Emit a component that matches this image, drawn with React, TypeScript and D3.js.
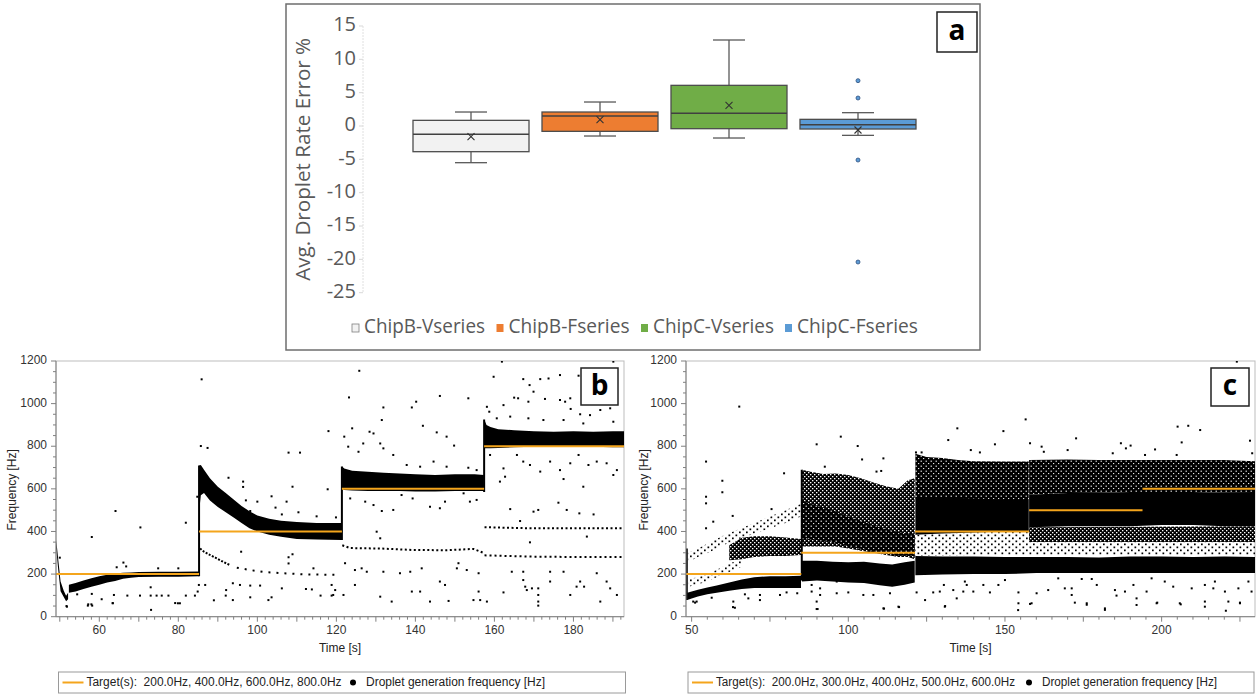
import React from 'react';
import * as d3 from 'd3';

// ---------------- Panel a: box plot data ----------------
const boxCategories = ['ChipB-Vseries', 'ChipB-Fseries', 'ChipC-Vseries', 'ChipC-Fseries'];
const boxWhiskerLow = [-5.5, -1.5, -1.8, -1.4];
const boxQ1 = [-3.85, -0.8, -0.4, -0.45];
const boxMedian = [-1.25, 1.5, 1.9, 0.2];
const boxQ3 = [0.85, 2.1, 6.1, 1.0];
const boxWhiskerHigh = [2.1, 3.6, 12.9, 2.0];
const boxMean = [-1.6, 0.95, 3.1, -0.6];
const boxOutliers: [number, number][] = [[3, 6.8], [3, 4.2], [3, -5.1], [3, -20.4]];
const aTicks = [15, 10, 5, 0, -5, -10, -15, -20, -25];
const boxColors = ['#f2f2f2', '#ed7d31', '#70ad47', '#5b9bd5'];

// ---------------- Panel b data ----------------
const bTargets: [number, number, number][] = [
  [49.04, 85.25, 200], [85.25, 121.4, 400], [121.4, 157.4, 600], [157.4, 192.8, 800],
];
const bBand0: [number, number, number][] = [
  [49.1, 320, 360], [49.6, 220, 270], [50.2, 120, 165], [51, 92, 122], [51.6, 72, 98], [52.1, 82, 112],
];
const bBand1: [number, number, number][] = [
  [52.3, 112, 150], [54, 118, 158], [56, 130, 170], [58, 140, 180], [60, 150, 190], [62, 160, 197],
  [64, 168, 203], [66, 178, 206], [68, 183, 208], [70, 186, 210], [75, 188, 211], [80, 188, 211], [85.2, 190, 212],
];
const bBand2: [number, number, number][] = [
  [85.3, 500, 710], [85.7, 570, 712], [86.5, 580, 690], [88, 545, 650], [90, 515, 610], [92, 490, 580],
  [94, 465, 550], [96, 440, 520], [98, 415, 495], [100, 400, 475], [103, 385, 460], [106, 375, 450],
  [110, 365, 445], [115, 362, 440], [121.3, 360, 440],
];
const bBand3: [number, number, number][] = [
  [121.45, 600, 705], [122, 595, 695], [124, 592, 685], [128, 590, 680], [132, 590, 675], [136, 590, 672],
  [140, 588, 668], [145, 588, 665], [150, 590, 668], [155, 590, 668], [157.35, 590, 665],
];
const bBand4: [number, number, number][] = [
  [157.45, 790, 925], [158, 790, 900], [159, 790, 890], [161, 792, 880], [165, 795, 875], [170, 797, 870],
  [175, 797, 868], [180, 797, 870], [185, 797, 868], [190, 795, 870], [192.8, 795, 870],
];
const bJumps: [number, number, number][] = [[85.25, 190, 710], [121.4, 360, 705], [157.4, 585, 925]];
const bTrail1: [number, number][] = [[85.5, 320], [86.5, 305], [88, 290], [89.7, 274], [91.4, 257], [93, 243]];
const bTrail2: [number, number][] = [[94.8, 230], [98.2, 219], [101.5, 210], [106.6, 204], [111.7, 199], [116.7, 197], [121, 196]];
const bTrail3: [number, number][] = [[121.5, 335], [123.5, 322], [131, 320], [139.5, 313], [147.9, 312], [154.7, 318], [157.2, 300]];
const bTrail4: [number, number][] = [[157.5, 420], [169, 415], [181.7, 415], [192.8, 415]];
const bTrail5: [number, number][] = [[157.5, 288], [169, 282], [181.7, 280], [192.8, 280]];
const bOutliers: [number, number][] = [
  [85.9, 1114], [118, 871], [64.1, 496], [70.4, 419], [58.1, 374], [81.9, 441], [107.9, 770], [110.8, 770], [108.9, 610],
  [117.8, 598], [85.7, 801], [87.4, 792], [84.8, 563], [92.7, 652], [96.4, 634], [96.4, 609], [103.6, 565], [100, 540],
  [97.1, 546], [104.6, 512], [106.2, 480], [98.2, 496], [107.4, 540], [110.4, 490], [115, 471], [119.9, 466], [66.1, 254],
  [66.8, 236], [50, 277], [54.4, 105], [58.1, 107], [60.6, 82], [63.4, 63], [57.1, 52], [58.2, 52], [51.8, 47], [63.7, 102],
  [67.1, 99], [70.3, 99], [73, 99], [74.5, 99], [75.8, 99], [77.5, 99], [79.9, 63], [80.4, 63], [81.9, 99], [84.2, 99],
  [73.1, 32], [73, 138], [86.8, 149], [85.2, 149], [84.9, 118], [89, 77], [92.1, 125], [92, 99], [93.8, 157], [95.6, 149],
  [98.2, 146], [100.7, 146], [93.8, 78], [98.2, 91], [102.8, 78], [103.6, 91], [106.2, 133], [107.9, 279], [107.9, 250],
  [108.9, 293], [112.3, 130], [113.8, 128], [116, 99], [118.8, 99], [119.7, 125], [114.2, 227], [95.9, 305], [64.4, 232],
  [74.9, 227], [80, 227],
  [125.8, 1154], [123.2, 1029], [131.9, 982], [131.5, 923], [124, 884], [139.1, 982], [140.2, 1009], [146.2, 1036],
  [153.4, 1025], [141.9, 896], [145.4, 865], [147.9, 845], [149.8, 803], [128.4, 868], [129.4, 860], [122, 845], [123, 798],
  [126.8, 813], [131.1, 813], [131.9, 790], [125.6, 774], [134.4, 759], [137.8, 712], [141.2, 704], [144.6, 728],
  [147.9, 704], [153.4, 699], [155.5, 688], [123.5, 555], [127.3, 540], [129.4, 524], [131.5, 496], [134.4, 501],
  [143.7, 516], [146.2, 509], [147.5, 540], [153.8, 540], [155.5, 548], [139.3, 555], [136.5, 571], [152.2, 579],
  [130.2, 399], [131.1, 368],
  [159.8, 1126], [161.9, 1197], [167.3, 1115], [168.9, 1087], [171.6, 1115], [173.7, 1118], [176.6, 1134], [181.3, 1131],
  [190.1, 1197], [158.1, 985], [158.7, 962], [162.3, 993], [165, 1028], [166, 1025], [168.6, 1009], [169.9, 1056],
  [172.8, 1022], [176.6, 1017], [177.9, 1009], [179.2, 1025], [179.3, 975], [181.7, 950], [184.2, 946], [186.8, 970],
  [189.3, 978], [160.6, 931], [164, 939], [168.6, 931], [172.4, 923], [177.5, 923], [182.5, 907], [190.1, 915],
  [158.9, 759], [162.3, 696], [165.7, 759], [167.3, 728], [169, 712], [171.6, 681], [174.1, 728], [176.6, 688],
  [179.2, 720], [181.3, 759], [183.8, 712], [185.9, 728], [188.4, 720], [191, 688], [161.4, 634], [162.7, 657],
  [177.5, 646], [182.5, 610], [190.1, 665],
  [164, 505], [166.5, 449], [169.9, 493], [171.1, 501], [176.2, 535], [178.3, 501], [181.5, 485], [185.1, 480],
  [169, 349], [183.4, 376],
  [122.2, 251], [124.7, 219], [126.4, 227], [127.7, 211], [131.9, 211], [136.1, 204], [138.7, 211], [141.6, 227],
  [146.2, 165], [147.5, 149], [150.5, 227], [150.9, 251], [153, 219], [156, 204], [156, 118], [156.4, 78], [158.1, 71],
  [154.7, 78], [148.4, 74], [141.2, 118], [143.7, 71], [139.1, 118], [134, 71], [131.1, 94], [124.7, 149], [121.8, 102],
  [118.8, 149], [119.2, 102], [162.3, 114], [167.3, 211], [167.3, 172], [167.8, 141], [168.2, 125], [169.5, 133],
  [171.1, 133], [171.1, 102], [171.1, 71], [171.1, 52], [174.1, 165], [177.5, 211], [180.8, 141], [181.7, 165],
  [182.7, 141], [185.9, 204], [188.4, 165], [189.3, 133], [191, 102], [186.8, 71], [179.2, 102], [174.1, 211], [164.4, 211],
  [51.7, 50], [57.2, 58], [58, 58], [63.4, 64], [79.2, 64],
];
const bXLabels = [60, 80, 100, 120, 140, 160, 180];

// ---------------- Panel c data ----------------
const cTargets: [number, number, number][] = [
  [48.2, 85, 200], [85, 121.3, 300], [121.3, 157.7, 400], [157.7, 193.9, 500], [193.9, 229.8, 600],
];
const cLow1: [number, number, number][] = [
  [48.6, 78, 112], [50, 86, 118], [52, 95, 126], [55, 105, 137], [58, 112, 147], [62, 122, 160], [66, 130, 175],
  [70, 135, 185], [75, 135, 190], [80, 135, 190], [84.9, 135, 192],
];
const cLow2: [number, number, number][] = [
  [85.2, 165, 262], [90, 170, 262], [95, 165, 258], [100, 160, 255], [105, 158, 258], [110, 148, 250], [114, 140, 245],
  [118, 150, 255], [121.2, 160, 262],
];
const cLow3: [number, number, number][] = [
  [121.4, 195, 285], [130, 198, 282], [140, 200, 282], [150, 200, 280], [160, 205, 280], [170, 205, 280], [180, 205, 278],
  [190, 205, 282], [200, 205, 282], [210, 205, 280], [220, 205, 282], [229.8, 205, 280],
];
const cCore3: [number, number, number][] = [[121.4, 385, 560], [130, 390, 560], [140, 395, 555], [150, 400, 550], [157.6, 400, 548]];
const cCore4: [number, number, number][] = [
  [157.7, 420, 572], [170, 425, 580], [180, 425, 582], [190, 425, 585], [200, 430, 585], [210, 430, 585], [220, 425, 582], [229.8, 425, 580],
];
const cCore2: [number, number, number][] = [
  [85.2, 370, 545], [90, 360, 520], [95, 350, 500], [100, 330, 470], [105, 315, 445], [110, 300, 420], [115, 290, 400], [121.2, 285, 385],
];
const cUpper2: [number, number, number][] = [
  [85.2, 330, 690], [88, 330, 680], [92, 330, 670], [96, 330, 672], [100, 320, 665], [104, 310, 650], [108, 300, 630],
  [112, 290, 612], [116, 280, 600], [119, 280, 640], [121.2, 270, 650],
];
const cUpper3: [number, number, number][] = [
  [121.4, 555, 765], [125, 555, 750], [130, 555, 745], [135, 550, 735], [140, 550, 730], [150, 548, 728], [157.6, 548, 728],
];
const cUpper4: [number, number, number][] = [
  [157.7, 572, 735], [170, 580, 738], [180, 582, 735], [190, 585, 735], [200, 585, 735], [210, 585, 735], [220, 582, 735], [229.8, 580, 730],
];
const cMid1: [number, number, number][] = [[62, 265, 335], [66, 270, 370], [70, 280, 378], [75, 285, 378], [80, 285, 372], [84.9, 290, 365]];
const cLowMid3: [number, number, number][] = [[121.4, 285, 385], [140, 290, 395], [157.6, 290, 400]];
const cLowMid4: [number, number, number][] = [[157.7, 350, 420], [229.8, 350, 425]];
const cSparse4: [number, number, number][] = [[157.7, 290, 350], [229.8, 290, 350]];
const cTrailUp1: [number, number, number][] = [
  [48.8, 255, 300], [52, 280, 320], [56, 305, 350], [60, 335, 380], [65, 365, 410], [70, 390, 440], [75, 415, 470], [80, 440, 500], [84.9, 470, 530],
];
const cTrailLow1: [number, number, number][] = [[49, 140, 175], [54, 160, 195], [58, 185, 220], [62, 210, 250], [66, 235, 270]];
const cJumps: [number, number, number][] = [[48.45, 78, 320], [85.15, 170, 690]];
const cOutliers: [number, number][] = [
  [65.2, 986], [54.6, 728], [54.6, 563], [54.6, 532], [59.8, 638], [59.8, 584], [63.1, 473], [56.9, 446], [54.6, 415],
  [79.5, 673], [75.5, 505], [89.9, 809], [97.6, 845], [103, 801], [104.4, 738], [92.5, 704], [111.2, 743], [109, 681],
  [110.5, 684], [131.9, 829], [134.8, 884], [123.4, 771], [121.6, 771],
  [50.5, 71], [51.6, 71], [56.4, 89], [63.8, 42], [63.3, 71], [67, 105], [68.1, 86], [71.8, 78], [71.8, 102], [78.2, 102],
  [80.3, 114], [83.7, 110], [89.9, 71], [89.9, 36], [91, 102], [96.3, 110], [100, 114], [104.8, 102], [111.2, 39], [116, 47],
  [113.3, 110], [108, 102], [124.5, 78], [121.8, 114], [127.1, 114], [129.2, 118], [133.5, 125], [134.6, 86], [130.8, 47],
  [136.7, 118], [137.8, 149], [130.5, 149], [91, 133], [88.3, 149], [96.3, 165], [88.3, 118],
  [156.6, 926], [149.5, 871], [146.8, 809], [142, 771], [139.1, 782], [158, 814], [161.7, 798], [162.4, 774], [170, 782],
  [172.7, 837], [187, 814], [188.6, 790], [190.1, 803], [184.4, 767], [197.9, 785], [205.1, 892], [208.5, 896],
  [212.3, 876], [206.4, 818], [228.2, 826], [228.9, 767], [224, 1197], [204.8, 759], [194.7, 759],
  [137.2, 165], [139.9, 118], [143.1, 149], [145.2, 114], [147.9, 149], [150, 172], [154.3, 114], [154.3, 63], [158.5, 63],
  [160.1, 110], [163.8, 125], [167, 180], [169.1, 133], [171.3, 133], [171.3, 102], [174.5, 177], [176.1, 63], [177.7, 177],
  [179.3, 149], [181.9, 32], [185.1, 125], [185.6, 99], [188.3, 118], [191, 149], [192, 86], [195.2, 118], [196.8, 180],
  [198.4, 63], [201, 165], [203.7, 141], [205.8, 63], [209.6, 133], [213.8, 149], [213.8, 71], [216.5, 133], [217, 165],
  [220.2, 118], [221.3, 71], [224.5, 133], [225, 63], [227.7, 165], [228.7, 118], [172.9, 211], [154.3, 227],
  [51.1, 66], [63.2, 45], [90.2, 36], [111.4, 38], [116.2, 45], [130.9, 50], [154.2, 31], [158, 60], [172.3, 66],
  [176.1, 56], [181.9, 39], [192, 55], [198.6, 66], [206.1, 58], [213.8, 47], [220.5, 28], [225, 66],
];
const cXLabels = [50, 100, 150, 200];

const yLabelsHz = [0, 200, 400, 600, 800, 1000, 1200];

const ORANGE = '#f4a51c';
const AFONT = "'Open Sans', 'Noto Sans', sans-serif";
const SFONT = "'Liberation Sans', Arial, sans-serif";

type Tex = 'dense' | 'speck' | 'medium' | 'sparse';
type Band = { data: [number, number, number][]; tex: Tex };

function Patterns({ id }: { id: string }) {
  return (
    <>
      <pattern id={`speck${id}`} patternUnits="userSpaceOnUse" width={5} height={5}>
        <rect width={5} height={5} fill="#000" />
        <rect x={0.6} y={0.6} width={1.2} height={1.2} fill="#fff" />
        <rect x={3.1} y={3} width={1.1} height={1.1} fill="#fff" />
      </pattern>
      <pattern id={`medium${id}`} patternUnits="userSpaceOnUse" width={4} height={4}>
        <rect width={4} height={4} fill="#000" />
        <rect x={0} y={0} width={1.4} height={1.3} fill="#fff" />
        <rect x={2} y={2} width={1.4} height={1.3} fill="#fff" />
      </pattern>
      <pattern id={`sparse${id}`} patternUnits="userSpaceOnUse" width={7} height={6}>
        <rect x={0.5} y={0.5} width={1.7} height={1.7} fill="#000" />
        <rect x={4} y={3.5} width={1.7} height={1.7} fill="#000" />
      </pattern>
    </>
  );
}

function ScatterPanel(props: {
  id: string; x0: number; x1: number; domain: [number, number]; y0: number; y1: number;
  bands: Band[]; trails: { pts: [number, number][]; dash: string }[]; jumps: [number, number, number][]; outliers: [number, number][];
  targets: [number, number, number][]; xLabels: number[]; majorStep: number; minorStep: number;
  titleX: number; tickRight: number; letter: string; letterBox: [number, number, number, number];
  legendBox: [number, number, number, number]; legendText: string; legendLen: number; dotX: number; textX: number; textLen: number;
}) {
  const p = props;
  const x = d3.scaleLinear().domain(p.domain).range([p.x0, p.x1]);
  const y = d3.scaleLinear().domain([0, 1200]).range([p.y1, p.y0]);
  const area = d3.area<[number, number, number]>().x(d => x(d[0])).y0(d => y(d[1])).y1(d => y(d[2]));
  const line = d3.line<[number, number]>().x(d => x(d[0])).y(d => y(d[1]));
  const minor = d3.range(Math.ceil(p.domain[0] / p.minorStep) * p.minorStep, p.domain[1], p.minorStep);
  const yMinor = d3.range(0, 1201, 50);
  const [lbx, lby, lbw, lbh] = p.legendBox;
  const ly = lby + lbh / 2;
  const fillOf = (t: Tex) => (t === 'dense' ? '#000' : `url(#${t}${p.id})`);
  return (
    <g>
      <defs>
        <clipPath id={'clip' + p.id}>
          <rect x={p.x0} y={p.y0} width={p.x1 - p.x0} height={p.y1 - p.y0} />
        </clipPath>
        <Patterns id={p.id} />
      </defs>
      <rect x={p.x0} y={p.y0} width={p.x1 - p.x0} height={p.y1 - p.y0} fill="#fff" stroke="#bdbdbd" strokeWidth={1} />
      <g clipPath={`url(#clip${p.id})`}>
        {p.bands.map((b, i) => (
          <path key={'b' + i} d={area(b.data) || ''} fill={fillOf(b.tex)} />
        ))}
        {p.jumps.map((j, i) => (
          <line key={'j' + i} x1={x(j[0])} x2={x(j[0])} y1={y(j[1])} y2={y(j[2])} stroke="#000" strokeWidth={2} />
        ))}
        {p.trails.map((t, i) => (
          <path key={'t' + i} d={line(t.pts) || ''} fill="none" stroke="#000" strokeWidth={2} strokeDasharray={t.dash} />
        ))}
        {p.outliers.map((o, i) => (
          <rect key={'o' + i} x={x(o[0]) - 1} y={y(o[1]) - 1} width={2} height={2} fill="#000" />
        ))}
        {p.targets.map((t, i) => (
          <line key={'g' + i} x1={x(t[0])} x2={x(t[1])} y1={y(t[2])} y2={y(t[2])} stroke={ORANGE} strokeWidth={2} />
        ))}
      </g>
      <line x1={p.x0} x2={p.x0} y1={p.y0} y2={p.y1} stroke="#808080" />
      <line x1={p.x0} x2={p.x1} y1={p.y1} y2={p.y1} stroke="#808080" />
      {minor.map(v => {
        const major = Math.abs(v / p.majorStep - Math.round(v / p.majorStep)) < 1e-6;
        return <line key={'xm' + v} x1={x(v)} x2={x(v)} y1={p.y1} y2={p.y1 + (major ? 5 : 3)} stroke="#808080" />;
      })}
      {yMinor.map(v => (
        <line key={'ym' + v} x1={p.x0} x2={p.x0 - (v % 200 === 0 ? 5 : 3)} y1={y(v)} y2={y(v)} stroke="#808080" />
      ))}
      {p.xLabels.map(v => (
        <text key={'xl' + v} x={x(v)} y={p.y1 + 14} textAnchor="middle" dominantBaseline="middle" fontSize={12} fontFamily={SFONT} fill="#333">{v}</text>
      ))}
      {yLabelsHz.map(v => (
        <text key={'yl' + v} x={p.tickRight} y={y(v)} textAnchor="end" dominantBaseline="middle" fontSize={12} fontFamily={SFONT} fill="#333">{v}</text>
      ))}
      <text x={(p.x0 + p.x1) / 2} y={649} textAnchor="middle" dominantBaseline="middle" fontSize={12} fontFamily={SFONT} fill="#222">Time [s]</text>
      <text transform={`translate(${p.titleX},${(p.y0 + p.y1) / 2 + 1}) rotate(-90)`} textAnchor="middle" dominantBaseline="middle" fontSize={12} fontFamily={SFONT} fill="#222">Frequency [Hz]</text>
      <rect x={p.letterBox[0]} y={p.letterBox[1]} width={p.letterBox[2]} height={p.letterBox[3]} fill="#fff" stroke="#222" strokeWidth={1.5} />
      <text x={p.letterBox[0] + p.letterBox[2] / 2} y={p.letterBox[1] + p.letterBox[3] / 2 + 1} textAnchor="middle" dominantBaseline="middle" fontSize={28} fontWeight={700} fontFamily={AFONT} fill="#000">{p.letter}</text>
      <rect x={lbx} y={lby} width={lbw} height={lbh} fill="#fff" stroke="#9a9a9a" />
      <line x1={lbx + 4} x2={lbx + 25} y1={ly} y2={ly} stroke={ORANGE} strokeWidth={2} />
      <text x={lbx + 28} y={ly + 0.5} dominantBaseline="middle" fontSize={12} fontFamily={SFONT} fill="#222" style={{ whiteSpace: 'pre' }} textLength={p.legendLen} lengthAdjust="spacingAndGlyphs">{p.legendText}</text>
      <circle cx={p.dotX} cy={ly} r={3} fill="#000" />
      <text x={p.textX} y={ly + 0.5} dominantBaseline="middle" fontSize={12} fontFamily={SFONT} fill="#222" textLength={p.textLen} lengthAdjust="spacingAndGlyphs">Droplet generation frequency [Hz]</text>
    </g>
  );
}

function BoxPanel() {
  const xb = d3.scaleBand<string>().domain(boxCategories).range([406.5, 922.5]).paddingInner(0).paddingOuter(0);
  const ya = d3.scaleLinear().domain([-25, 15]).range([292.7, 26]);
  const bw = 116;
  const cap = 32;
  const gray = '#595959';
  const legendX = [352, 496.5, 641, 785];
  return (
    <g>
      <rect x={286} y={4} width={694} height={346} fill="#fff" stroke="#6e6e6e" strokeWidth={1.5} />
      <line x1={363} x2={363} y1={ya(15)} y2={ya(-25)} stroke="#e0e0e0" strokeWidth={1} strokeDasharray="2 1" />
      {aTicks.map(t => (
        <g key={t}>
          <line x1={359} x2={363} y1={ya(t)} y2={ya(t)} stroke="#d9d9d9" />
          <text x={356} y={ya(t)} textAnchor="end" dominantBaseline="middle" fontSize={20} fontFamily={AFONT} fill={gray}>{t}</text>
        </g>
      ))}
      <text transform={`translate(305,${(ya(15) + ya(-25)) / 2}) rotate(-90)`} textAnchor="middle" dominantBaseline="middle" fontSize={20} fontFamily={AFONT} fill={gray} textLength={243} lengthAdjust="spacingAndGlyphs">Avg. Droplet Rate Error %</text>
      {boxCategories.map((c, i) => {
        const cx = (xb(c) as number) + xb.bandwidth() / 2;
        return (
          <g key={c}>
            <line x1={cx} x2={cx} y1={ya(boxWhiskerHigh[i])} y2={ya(boxQ3[i])} stroke="#595959" strokeWidth={1.3} />
            <line x1={cx} x2={cx} y1={ya(boxQ1[i])} y2={ya(boxWhiskerLow[i])} stroke="#595959" strokeWidth={1.3} />
            <line x1={cx - cap / 2} x2={cx + cap / 2} y1={ya(boxWhiskerHigh[i])} y2={ya(boxWhiskerHigh[i])} stroke="#595959" strokeWidth={1.3} />
            <line x1={cx - cap / 2} x2={cx + cap / 2} y1={ya(boxWhiskerLow[i])} y2={ya(boxWhiskerLow[i])} stroke="#595959" strokeWidth={1.3} />
            <rect x={cx - bw / 2} y={ya(boxQ3[i])} width={bw} height={ya(boxQ1[i]) - ya(boxQ3[i])} fill={boxColors[i]} stroke="#4d4d4d" strokeWidth={1.3} />
            <line x1={cx - bw / 2} x2={cx + bw / 2} y1={ya(boxMedian[i])} y2={ya(boxMedian[i])} stroke="#404040" strokeWidth={1.5} />
            <path d={`M${cx - 3.5},${ya(boxMean[i]) - 3.5}L${cx + 3.5},${ya(boxMean[i]) + 3.5}M${cx + 3.5},${ya(boxMean[i]) - 3.5}L${cx - 3.5},${ya(boxMean[i]) + 3.5}`} stroke="#333" strokeWidth={1.1} />
          </g>
        );
      })}
      {boxOutliers.map((o, i) => {
        const cx = (xb(boxCategories[o[0]]) as number) + xb.bandwidth() / 2;
        return <circle key={i} cx={cx} cy={ya(o[1])} r={2} fill="#5b9bd5" stroke="#2f4f7f" strokeWidth={0.8} />;
      })}
      {boxCategories.map((c, i) => (
        <g key={'lg' + c}>
          <rect x={legendX[i]} y={324} width={7} height={8} fill={boxColors[i]} stroke={i === 0 ? '#7f7f7f' : 'none'} strokeWidth={0.8} />
          <text x={legendX[i] + 12} y={328} dominantBaseline="middle" fontSize={20} fontFamily={AFONT} fill={gray} textLength={121} lengthAdjust="spacingAndGlyphs">{c}</text>
        </g>
      ))}
      <rect x={937} y={12} width={40} height={40} fill="#fff" stroke="#222" strokeWidth={1.5} />
      <text x={957} y={33} textAnchor="middle" dominantBaseline="middle" fontSize={28} fontWeight={700} fontFamily={AFONT} fill="#000">a</text>
    </g>
  );
}

export default function App() {
  const bBands: Band[] = [
    { data: bBand0, tex: 'dense' }, { data: bBand1, tex: 'dense' }, { data: bBand2, tex: 'dense' },
    { data: bBand3, tex: 'dense' }, { data: bBand4, tex: 'dense' },
  ];
  const bTrails = [
    { pts: bTrail1, dash: '2 1.5' }, { pts: bTrail2, dash: '2 6' }, { pts: bTrail3, dash: '2 2.5' },
    { pts: bTrail4, dash: '2 2.5' }, { pts: bTrail5, dash: '2 3' },
  ];
  const cBands: Band[] = [
    { data: cTrailUp1, tex: 'sparse' }, { data: cTrailLow1, tex: 'sparse' }, { data: cMid1, tex: 'medium' },
    { data: cUpper2, tex: 'medium' }, { data: cCore2, tex: 'speck' }, { data: cUpper3, tex: 'speck' }, { data: cLowMid3, tex: 'sparse' },
    { data: cUpper4, tex: 'speck' }, { data: cLowMid4, tex: 'medium' }, { data: cSparse4, tex: 'sparse' },
    { data: cLow1, tex: 'dense' }, { data: cLow2, tex: 'dense' }, { data: cLow3, tex: 'dense' }, { data: cCore3, tex: 'dense' }, { data: cCore4, tex: 'dense' },
  ];
  return (
    <svg width={1256} height={694} style={{ position: 'absolute', left: 0, top: 0, background: '#fff' }}>
      <rect x={0} y={0} width={1256} height={694} fill="#fff" />
      <ScatterPanel id="b" x0={56} x1={624} domain={[49.04, 192.8]} y0={361} y1={616.7}
        bands={bBands} trails={bTrails} jumps={bJumps} outliers={bOutliers}
        targets={bTargets} xLabels={bXLabels} majorStep={10} minorStep={2} titleX={13} tickRight={47}
        letter="b" letterBox={[581, 368, 37, 37]} legendBox={[58.5, 672, 567, 21]}
        legendText="Target(s):  200.0Hz, 400.0Hz, 600.0Hz, 800.0Hz" legendLen={255} dotX={353} textX={366} textLen={179} />
      <ScatterPanel id="c" x0={686} x1={1255} domain={[48.2, 229.8]} y0={361} y1={616.7}
        bands={cBands} trails={[]} jumps={cJumps} outliers={cOutliers}
        targets={cTargets} xLabels={cXLabels} majorStep={25} minorStep={5} titleX={645} tickRight={677}
        letter="c" letterBox={[1211, 368, 38, 38]} legendBox={[688, 672, 566, 21]}
        legendText="Target(s):  200.0Hz, 300.0Hz, 400.0Hz, 500.0Hz, 600.0Hz" legendLen={299} dotX={1029} textX={1042} textLen={175} />
      <BoxPanel />
    </svg>
  );
}
